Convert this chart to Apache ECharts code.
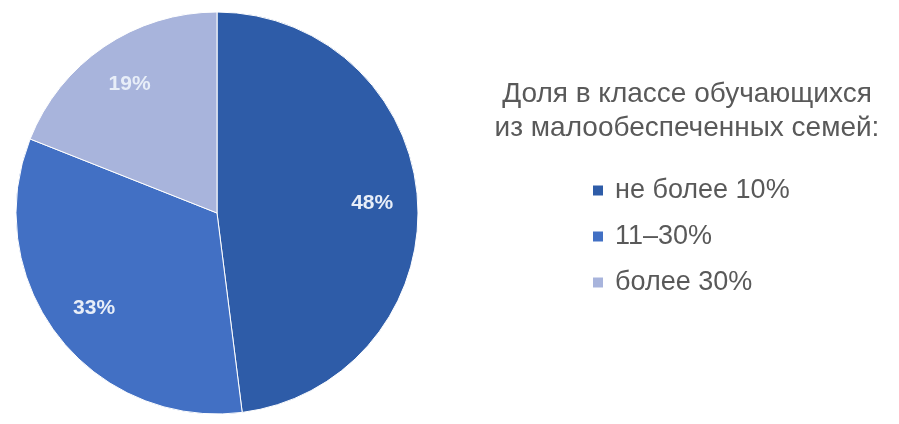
<!DOCTYPE html>
<html>
<head>
<meta charset="utf-8">
<script src="https://cdn.jsdelivr.net/npm/echarts@6/dist/echarts.min.js"></script>
<style>
html,body{margin:0;padding:0;background:#fff;}
#c{width:899px;height:424px;}
</style>
</head>
<body>
<div id="c"></div>
<script>
const categories = ['не более 10%', '11–30%', 'более 30%'];
const values = [48, 33, 19];
const labels = ['48%', '33%', '19%'];
const colors = ['#2E5CA8', '#4270C4', '#A8B4DC'];
const legendTitle = 'Доля в классе обучающихся\nиз малообеспеченных семей:';

const data = categories.map((n, i) => ({ name: n, value: values[i], itemStyle: { color: colors[i] } }));
const labelData = categories.map((n, i) => ({ name: n, value: values[i] }));

const chart = echarts.init(document.getElementById('c'), null, { renderer: 'canvas' });
chart.setOption({
  animation: false,
  backgroundColor: '#ffffff',
  textStyle: { fontFamily: 'Liberation Sans' },
  title: {
    text: legendTitle,
    left: 682,
    top: 72,
    textAlign: 'center',
    textStyle: { fontSize: 28, fontWeight: 'normal', color: '#595959', lineHeight: 34, fontFamily: 'Liberation Sans' }
  },
  legend: {
    orient: 'vertical',
    left: 586,
    top: 172,
    itemWidth: 12,
    itemHeight: 12,
    itemGap: 19,
    icon: 'rect',
    data: categories,
    textStyle: { fontSize: 27, color: '#595959', fontFamily: 'Liberation Sans', padding: [0, 0, 0, 6] },
    selectedMode: false
  },
  series: [
    {
      type: 'pie',
      center: [217, 213],
      radius: [0, 201],
      startAngle: 90,
      clockwise: true,
      data: data,
      itemStyle: { borderColor: '#ffffff', borderWidth: 1 },
      label: { show: false },
      labelLine: { show: false },
      emphasis: { disabled: true }
    },
    {
      type: 'pie',
      center: [217, 213],
      radius: [104, 201],
      startAngle: 90,
      clockwise: true,
      data: labelData,
      silent: true,
      itemStyle: { color: 'rgba(0,0,0,0)' },
      label: {
        show: true,
        position: 'inside',
        formatter: p => labels[p.dataIndex],
        color: '#E8EEF8',
        fontSize: 21,
        fontWeight: 'bold',
        fontFamily: 'Liberation Sans'
      },
      labelLine: { show: false },
      emphasis: { disabled: true }
    }
  ]
});
</script>
</body>
</html>
